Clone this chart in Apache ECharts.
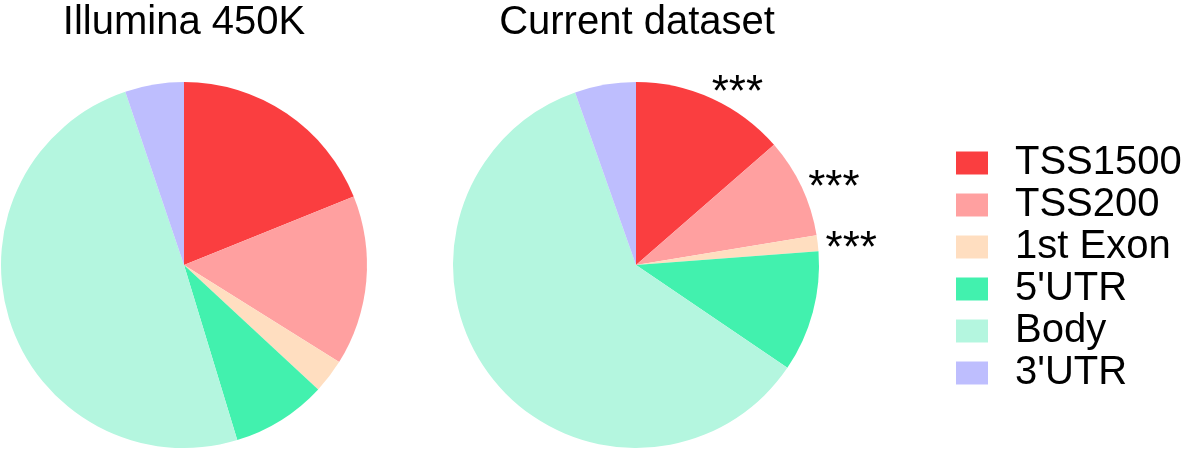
<!DOCTYPE html>
<html>
<head>
<meta charset="utf-8">
<script src="https://cdn.jsdelivr.net/npm/echarts@6/dist/echarts.min.js"></script>
<style>
html,body{margin:0;padding:0;background:#fff;}
#chart{width:1181px;height:449px;}
</style>
</head>
<body>
<div id="chart"></div>
<script>
const categories = ['TSS1500', 'TSS200', '1st Exon', "5'UTR", 'Body', "3'UTR"];
const illuminaValues = [18.9, 15.0, 3.0, 8.4, 49.5, 5.2];
const currentValues = [13.6, 8.8, 1.4, 10.7, 60.1, 5.4];
const currentSignificance = ['***', '***', '***', '', '', ''];
const panelTitles = ['Illumina 450K', 'Current dataset'];
const colors = ['#FA3E40', '#FFA0A0', '#FFDEC0', '#42F1AE', '#B4F6DF', '#BEBEFE'];

const FONT = 'Liberation Sans, Arial, sans-serif';

function buildData(values, marks) {
  return categories.map((name, i) => ({
    name: name,
    value: values[i],
    label: { show: !!(marks && marks[i]) }
  }));
}

const chart = echarts.init(document.getElementById('chart'));
chart.setOption({
  animation: false,
  color: colors,
  title: [
    { text: panelTitles[0], left: 184, top: 3, textAlign: 'center', padding: 0,
      textStyle: { fontFamily: FONT, fontSize: 40, fontWeight: 'normal', color: '#000' } },
    { text: panelTitles[1], left: 637, top: 3, textAlign: 'center', padding: 0,
      textStyle: { fontFamily: FONT, fontSize: 40, fontWeight: 'normal', color: '#000' } }
  ],
  legend: {
    orient: 'vertical',
    left: 956,
    top: 143,
    padding: 0,
    itemWidth: 32,
    itemHeight: 23,
    itemGap: 2,
    icon: 'rect',
    selectedMode: false,
    data: categories,
    textStyle: { fontFamily: FONT, fontSize: 40, color: '#000', padding: [0, 0, 0, 22] }
  },
  series: [
    {
      type: 'pie',
      center: [184, 265],
      radius: 183,
      startAngle: 90,
      clockwise: true,
      silent: true,
      label: { show: false },
      labelLine: { show: false },
      itemStyle: { borderWidth: 0 },
      data: buildData(illuminaValues, null)
    },
    {
      type: 'pie',
      center: [636, 265],
      radius: 183,
      startAngle: 90,
      clockwise: true,
      silent: true,
      avoidLabelOverlap: false,
      label: {
        position: 'outside',
        formatter: p => '\n' + currentSignificance[p.dataIndex],
        fontFamily: FONT,
        fontSize: 44,
        color: '#000',
        lineHeight: 16,
        distanceToLabelLine: -6
      },
      labelLine: { show: false, length: 14, length2: 0 },
      itemStyle: { borderWidth: 0 },
      data: buildData(currentValues, currentSignificance)
    }
  ]
});
</script>
</body>
</html>
